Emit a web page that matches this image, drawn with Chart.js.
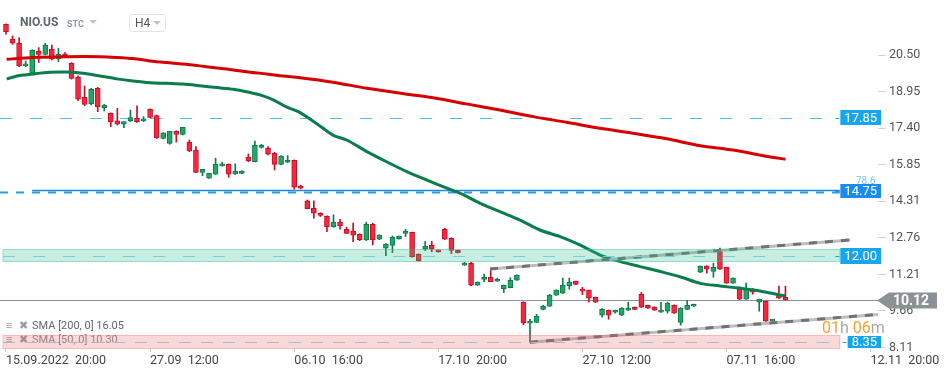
<!DOCTYPE html>
<html>
<head>
<meta charset="utf-8">
<script src="https://cdn.jsdelivr.net/npm/chart.js@4.4.0/dist/chart.umd.min.js"></script>
<style>
html, body { margin: 0; padding: 0; background: #fff; }
#chart { display: block; }
</style>
</head>
<body>
<canvas id="chart" width="949" height="373"></canvas>
<script>
// H4 candles, NIO.US, 15.09.2022 - 08.11.2022
const opens = [
    21.80, 21.17, 21.00, 20.04, 19.73, 20.67, 20.53, 20.74, 20.33, 20.54,
    20.15, 19.56, 18.71, 18.43, 19.09, 18.27, 18.03, 17.71, 17.57, 17.72,
    17.82, 17.71, 18.20, 17.93, 16.97, 16.76, 17.27, 17.14, 16.81, 16.47,
    15.53, 15.28, 15.45, 15.80, 15.87, 15.46, 15.49, 16.18, 15.98, 16.59,
    16.55, 16.34, 15.87, 15.96, 16.04, 14.95, 14.32, 14.01, 13.80, 13.67,
    13.23, 13.42, 13.12, 13.04, 12.91, 12.67, 13.33, 12.70, 12.32, 12.44,
    12.72, 12.95, 12.99, 12.06, 12.28, 12.44, 12.23, 13.12, 12.74, 12.23,
    11.60, 11.68, 10.75, 11.00, 11.09, 10.92, 10.61, 10.65, 10.96, 10.03,
    9.14, 9.18, 9.73, 9.86, 10.33, 10.41, 10.73, 10.92, 10.58, 10.54,
    10.24, 9.48, 9.69, 9.61, 9.48, 9.69, 9.82, 10.37, 9.90, 9.82,
    9.61, 9.65, 9.90, 9.18, 9.73, 9.86, 11.30, 11.56, 11.34, 12.19,
    11.51, 10.84, 10.67, 10.16, 10.54, 10.03, 10.07, 9.23, 10.33, 10.24
];
const highs = [
    21.82, 21.31, 21.23, 20.25, 20.72, 20.81, 21.00, 20.92, 20.79, 20.60,
    20.18, 19.62, 19.19, 19.09, 19.13, 18.41, 18.05, 18.24, 17.68, 18.17,
    18.35, 17.89, 18.22, 17.96, 17.21, 17.27, 17.29, 17.44, 16.90, 16.62,
    15.66, 15.49, 16.13, 15.96, 15.89, 15.89, 15.60, 16.31, 16.86, 16.72,
    16.62, 16.38, 16.24, 16.24, 16.06, 14.99, 14.36, 14.32, 13.82, 13.69,
    13.73, 13.54, 13.21, 13.38, 12.93, 13.42, 13.38, 12.89, 12.51, 12.84,
    12.83, 13.12, 13.00, 12.08, 12.61, 12.61, 12.24, 13.16, 12.76, 12.24,
    11.72, 11.72, 10.89, 11.22, 11.40, 11.05, 10.76, 11.07, 11.19, 10.05,
    9.31, 9.52, 9.90, 10.37, 10.56, 11.05, 11.05, 10.93, 10.66, 10.55,
    10.25, 9.76, 9.70, 9.70, 9.80, 10.03, 9.83, 10.45, 9.91, 9.84,
    10.03, 10.03, 9.92, 9.80, 10.11, 9.95, 11.57, 11.58, 11.68, 12.32,
    11.52, 11.06, 10.68, 10.84, 10.62, 10.16, 10.08, 9.30, 10.71, 10.71
];
const lows = [
    21.38, 20.95, 20.01, 20.01, 19.71, 20.18, 20.50, 20.29, 20.22, 20.46,
    19.48, 18.57, 18.35, 18.39, 18.10, 18.13, 17.47, 17.54, 17.42, 17.68,
    17.65, 17.68, 17.84, 16.97, 16.95, 16.72, 16.81, 17.12, 16.41, 15.52,
    15.39, 15.27, 15.44, 15.79, 15.32, 15.44, 15.47, 15.98, 15.97, 16.55,
    16.27, 15.63, 15.85, 15.94, 14.82, 14.83, 13.98, 13.59, 13.66, 13.02,
    13.21, 13.13, 12.93, 12.60, 12.64, 12.64, 12.46, 12.68, 12.00, 12.13,
    12.70, 12.81, 11.94, 11.77, 12.22, 12.17, 12.15, 12.69, 12.09, 12.12,
    11.59, 10.73, 10.74, 10.90, 10.90, 10.91, 10.44, 10.64, 10.95, 9.08,
    8.34, 9.17, 9.71, 9.85, 10.32, 10.40, 10.58, 10.78, 10.35, 10.03,
    10.02, 9.40, 9.31, 9.57, 9.46, 9.68, 9.72, 9.80, 9.77, 9.68,
    9.60, 9.57, 9.56, 9.06, 9.72, 9.85, 11.28, 11.26, 11.09, 11.42,
    10.83, 10.83, 10.14, 10.15, 10.37, 9.65, 9.22, 9.22, 10.19, 10.15
];
const closes = [
    21.49, 21.00, 20.04, 20.12, 20.70, 20.53, 20.91, 20.32, 20.53, 20.47,
    19.51, 18.63, 18.41, 19.05, 18.31, 18.37, 17.68, 17.57, 17.68, 17.85,
    17.68, 17.79, 17.86, 16.99, 17.21, 17.27, 17.14, 17.44, 16.44, 15.53,
    15.66, 15.49, 15.87, 15.89, 15.45, 15.59, 15.58, 16.03, 16.68, 16.68,
    16.30, 15.87, 16.22, 16.04, 14.90, 14.86, 13.99, 13.80, 13.71, 13.23,
    13.42, 13.27, 12.95, 12.87, 12.68, 13.33, 12.67, 12.87, 12.49, 12.78,
    12.83, 13.04, 11.96, 11.79, 12.40, 12.28, 12.17, 12.70, 12.23, 12.13,
    11.68, 10.75, 10.88, 11.09, 10.90, 11.00, 10.75, 10.96, 11.17, 9.17,
    9.23, 9.44, 9.86, 10.33, 10.54, 10.75, 10.88, 10.79, 10.50, 10.20,
    10.03, 9.73, 9.48, 9.69, 9.78, 9.78, 9.73, 9.82, 9.78, 9.69,
    9.69, 9.99, 9.57, 9.78, 9.90, 9.94, 11.56, 11.43, 11.51, 11.43,
    10.84, 11.05, 10.16, 10.62, 10.46, 10.16, 9.23, 9.27, 10.20, 10.12
];

// moving averages at candle positions
const sma200X = [0.1, 4.1, 9.3, 14.4, 16.9, 19.4, 22.0, 24.5, 27.0, 29.6, 32.2, 34.7, 37.3, 39.8, 42.3, 44.9,
    49.9, 55.1, 60.2, 65.2, 70.3, 75.4, 80.5, 85.6, 90.7, 95.7, 100.9, 106.0, 111.0, 116.2, 119.0];
const sma200Y = [20.32, 20.40, 20.43, 20.43, 20.40, 20.35, 20.25, 20.18, 20.12, 20.04, 19.95, 19.87, 19.77, 19.70, 19.61, 19.54,
    19.35, 19.09, 18.88, 18.69, 18.43, 18.17, 17.89, 17.65, 17.40, 17.19, 16.95, 16.66, 16.48, 16.20, 16.09];
const sma50X = [0.1, 2.1, 4.1, 6.7, 9.3, 11.8, 14.4, 16.9, 19.4, 22.0, 24.5, 27.0, 29.6, 32.2, 34.7, 37.3, 38.8, 40.8, 42.9, 44.9,
    47.6, 49.9, 52.0, 55.1, 58.1, 61.2, 64.2, 67.3, 69.3, 72.4, 75.4, 78.5, 81.5, 84.6, 87.6, 90.7, 93.8, 96.8, 99.9, 102.9,
    106.0, 109.0, 112.1, 115.1, 118.2, 119.0];
const sma50Y = [19.49, 19.63, 19.70, 19.77, 19.78, 19.73, 19.61, 19.49, 19.40, 19.33, 19.30, 19.27, 19.20, 19.12, 19.05, 18.91, 18.81, 18.60, 18.29, 18.06,
    17.56, 17.11, 16.90, 16.41, 15.98, 15.56, 15.21, 14.86, 14.65, 14.22, 13.87, 13.51, 13.09, 12.81, 12.46, 12.03, 11.75, 11.54, 11.33, 11.11,
    10.83, 10.72, 10.62, 10.51, 10.34, 10.30];

// triangle trend lines: [start index, end index], [start price, end price]
const upperTrendX = [73.9, 128.9];
const upperTrendY = [11.44, 12.67];
const lowerTrendX = [80.0, 133.4];
const lowerTrendY = [8.34, 9.52];

// levels and zones
const levelValues = [17.85, 14.75, 12.00, 8.35];
const zoneTops = [12.29, 8.65];
const zoneBottoms = [11.77, 8.10];
const lastPrice = 10.12;

const xTickIndex = [0, 22, 44, 66, 88, 110, 132];
const xTickLabels = ['15.09.2022  20:00', '27.09  12:00', '06.10  16:00', '17.10  20:00', '27.10  12:00', '07.11  16:00', '12.11  20:00'];
const yTickValues = [8.11, 9.66, 11.21, 12.76, 14.31, 15.85, 17.40, 18.95, 20.50];

const UP_FILL = '#21a768';
const UP_LINE = '#0f7a4b';
const DOWN_FILL = '#f4283e';
const DOWN_LINE = '#c40f27';
const FONT = 'Roboto, "Noto Sans", sans-serif';

const idx = closes.map((c, i) => i);
const isUp = idx.map(i => closes[i] >= opens[i]);

const LEVEL_END = 127.3; // index where level lines and zones stop

function hLine(ctx, x1, x2, y, color, width, dash) {
    ctx.save();
    ctx.strokeStyle = color;
    ctx.lineWidth = width;
    ctx.setLineDash(dash || []);
    ctx.beginPath();
    ctx.moveTo(x1, Math.round(y) + 0.5);
    ctx.lineTo(x2, Math.round(y) + 0.5);
    ctx.stroke();
    ctx.restore();
}

function priceBox(ctx, right, y, text, color, h) {
    ctx.save();
    ctx.font = '13px ' + FONT;
    const w = ctx.measureText(text).width + 8;
    ctx.fillStyle = color;
    ctx.fillRect(right - w, Math.round(y - h / 2), w, h);
    ctx.strokeStyle = color;
    ctx.beginPath();
    ctx.moveTo(right - w - 5, Math.round(y) + 0.5);
    ctx.lineTo(right - w - 1, Math.round(y) + 0.5);
    ctx.stroke();
    ctx.fillStyle = '#fff';
    ctx.textAlign = 'center';
    ctx.textBaseline = 'middle';
    ctx.fillText(text, right - w / 2, y + 1);
    ctx.restore();
}

const overlay = {
    id: 'overlay',
    beforeDatasetsDraw(chart) {
        const { ctx, chartArea: a, scales: { x, y } } = chart;
        const xe = x.getPixelForValue(LEVEL_END);
        ctx.save();
        ctx.beginPath();
        ctx.rect(a.left, a.top, a.right - a.left, a.bottom - a.top);
        ctx.clip();
        hLine(ctx, a.left, xe, y.getPixelForValue(levelValues[0]), '#4cbdf0', 1, [12, 18]);
        hLine(ctx, x.getPixelForValue(4), xe, y.getPixelForValue(levelValues[1]) - 1, '#1e88e5', 1.5);
        hLine(ctx, a.left, xe, y.getPixelForValue(levelValues[1]) + 1, '#2a9be8', 2, [8, 8]);
        hLine(ctx, a.left, a.right, y.getPixelForValue(lastPrice), '#8a9296', 1);
        ctx.restore();

        ctx.save();
        ctx.font = '10px ' + FONT;
        ctx.fillStyle = '#6fcaf5';
        ctx.textAlign = 'left';
        ctx.textBaseline = 'middle';
        ctx.fillText('78.6', 856, y.getPixelForValue(levelValues[1]) - 9);
        ctx.restore();
    },
    afterDatasetsDraw(chart) {
        const { ctx, chartArea: a, scales: { x, y } } = chart;
        const xe = x.getPixelForValue(LEVEL_END);

        // indicator legend (bottom left)
        ctx.save();
        ctx.font = '11px ' + FONT;
        ctx.textBaseline = 'middle';
        [['SMA [200, 0] 16.05', 326, '#666'], ['SMA [50, 0] 10.30', 340, '#8a8a8a']].forEach(([t, ly, c]) => {
            ctx.fillStyle = '#999';
            ctx.fillText('\u2261', 6, ly);
            ctx.fillText('\u2716', 19, ly);
            ctx.fillStyle = c;
            ctx.fillText(t, 32, ly);
        });
        ctx.restore();

        // zones
        const zoneFill = ['rgba(44, 190, 140, 0.26)', 'rgba(240, 90, 90, 0.23)'];
        const zoneEdge = ['rgba(44, 190, 140, 0.45)', 'rgba(240, 90, 90, 0.35)'];
        ctx.save();
        zoneTops.forEach((t, i) => {
            const y1 = Math.round(y.getPixelForValue(t)) + 0.5;
            const y2 = Math.round(y.getPixelForValue(zoneBottoms[i])) + 0.5;
            ctx.fillStyle = zoneFill[i];
            ctx.fillRect(a.left + 3, y1, xe - a.left - 3, y2 - y1);
            ctx.strokeStyle = zoneEdge[i];
            ctx.lineWidth = 1;
            ctx.strokeRect(a.left + 3, y1, xe - a.left - 3, y2 - y1);
        });
        ctx.restore();
        hLine(ctx, a.left + 3, xe, y.getPixelForValue(levelValues[2]), '#78cde0', 1, [12, 18]);
        hLine(ctx, a.left + 3, xe, y.getPixelForValue(levelValues[3]), '#a7b7d6', 1, [12, 10]);

        // level boxes
        const right = a.right + 3;
        priceBox(ctx, right, y.getPixelForValue(levelValues[0]), '17.85', '#16a6ee', 15);
        priceBox(ctx, right, y.getPixelForValue(levelValues[1]), '14.75', '#1a8cf0', 14);
        priceBox(ctx, right, y.getPixelForValue(levelValues[2]), '12.00', '#16a6ee', 16);
        priceBox(ctx, right, y.getPixelForValue(levelValues[3]), '8.35', '#16a6ee', 12);
    },
    afterDraw(chart) {
        const { ctx, chartArea: a, scales: { y } } = chart;
        // last price tag
        const py = Math.round(y.getPixelForValue(lastPrice)) + 0.5;
        ctx.save();
        ctx.fillStyle = '#8a9296';
        ctx.beginPath();
        ctx.moveTo(a.right - 1, py);
        ctx.lineTo(a.right + 11, py - 8);
        ctx.lineTo(937, py - 8);
        ctx.lineTo(937, py + 8);
        ctx.lineTo(a.right + 11, py + 8);
        ctx.closePath();
        ctx.fill();
        ctx.fillStyle = '#fff';
        ctx.font = 'bold 14px ' + FONT;
        ctx.textAlign = 'center';
        ctx.textBaseline = 'middle';
        ctx.fillText(lastPrice.toFixed(2), 911, py + 1);

        // candle countdown
        ctx.font = '16px ' + FONT;
        ctx.textAlign = 'left';
        ctx.textBaseline = 'alphabetic';
        let cx = 822;
        [['01', '#f7a12a'], ['h', '#a8a8a8'], [' 06', '#f7a12a'], ['m', '#a8a8a8']].forEach(([t, c]) => {
            ctx.fillStyle = c;
            ctx.fillText(t, cx, 333);
            cx += ctx.measureText(t).width;
        });

        // header
        ctx.font = 'bold 12px ' + FONT;
        ctx.fillStyle = '#5b656d';
        ctx.textBaseline = 'middle';
        ctx.fillText('NIO.US', 20, 23);
        ctx.font = 'bold 9px ' + FONT;
        ctx.fillStyle = '#8a9bab';
        ctx.fillText('STC', 67, 24.5);
        ctx.fillStyle = '#c4c4c4';
        ctx.beginPath();
        ctx.moveTo(89, 20); ctx.lineTo(97, 20); ctx.lineTo(93, 24); ctx.closePath();
        ctx.fill();
        ctx.strokeStyle = '#e2e2e2';
        ctx.lineWidth = 1;
        ctx.beginPath();
        ctx.roundRect(129.5, 14.5, 36, 17, 3);
        ctx.stroke();
        ctx.font = '12px ' + FONT;
        ctx.fillStyle = '#555';
        ctx.fillText('H4', 135, 23.5);
        ctx.fillStyle = '#c4c4c4';
        ctx.beginPath();
        ctx.moveTo(153, 21); ctx.lineTo(161, 21); ctx.lineTo(157, 25); ctx.closePath();
        ctx.fill();
        ctx.restore();
    }
};

const ctx = document.getElementById('chart').getContext('2d');

new Chart(ctx, {
    type: 'bar',
    data: {
        datasets: [
            {
                label: 'SMA 200',
                type: 'line',
                data: sma200X.map((v, i) => ({ x: v, y: sma200Y[i] })),
                borderColor: '#d60000',
                borderWidth: 3,
                pointRadius: 0,
                tension: 0.3,
                order: 2,
            },
            {
                label: 'SMA 50',
                type: 'line',
                data: sma50X.map((v, i) => ({ x: v, y: sma50Y[i] })),
                borderColor: '#0b7d4c',
                borderWidth: 3,
                pointRadius: 0,
                tension: 0.3,
                order: 2,
            },
            {
                label: 'upper',
                type: 'line',
                data: upperTrendX.map((v, i) => ({ x: v, y: upperTrendY[i] })),
                borderColor: '#bdbdbd',
                borderWidth: 3,
                pointRadius: 0,
                order: 1,
            },
            {
                label: 'upper dash',
                type: 'line',
                data: upperTrendX.map((v, i) => ({ x: v, y: upperTrendY[i] })),
                borderColor: '#727272',
                borderWidth: 3,
                borderDash: [8, 8],
                pointRadius: 0,
                order: 0,
            },
            {
                label: 'lower',
                type: 'line',
                data: lowerTrendX.map((v, i) => ({ x: v, y: lowerTrendY[i] })),
                borderColor: '#bdbdbd',
                borderWidth: 3,
                pointRadius: 0,
                order: 1,
            },
            {
                label: 'lower dash',
                type: 'line',
                data: lowerTrendX.map((v, i) => ({ x: v, y: lowerTrendY[i] })),
                borderColor: '#727272',
                borderWidth: 3,
                borderDash: [8, 8],
                pointRadius: 0,
                order: 0,
            },
            {
                label: 'wicks',
                data: idx.map(i => ({ x: i, y: [lows[i], highs[i]] })),
                backgroundColor: idx.map(i => (isUp[i] ? UP_LINE : DOWN_LINE)),
                barThickness: 1,
                grouped: false,
                order: 4,
            },
            {
                label: 'bodies',
                data: idx.map(i => ({ x: i, y: [opens[i], closes[i]] })),
                backgroundColor: idx.map(i => (isUp[i] ? UP_FILL : DOWN_FILL)),
                borderColor: idx.map(i => (isUp[i] ? UP_LINE : DOWN_LINE)),
                borderWidth: 1,
                borderSkipped: false,
                barThickness: 5,
                minBarLength: 2,
                grouped: false,
                order: 3,
            },
        ],
    },
    options: {
        responsive: false,
        animation: false,
        events: [],
        layout: { padding: 0 },
        plugins: {
            legend: { display: false },
            tooltip: { enabled: false },
        },
        scales: {
            x: {
                type: 'linear',
                min: -0.916,
                max: 133.13,
                offset: false,
                afterBuildTicks: s => { s.ticks = xTickIndex.map(v => ({ value: v })); },
                afterFit: s => { s.height = 24; s.paddingLeft = 0; s.paddingRight = 0; },
                grid: { drawOnChartArea: false, offset: false, tickLength: 3, color: '#c8c8c8' },
                border: { display: false },
                ticks: {
                    autoSkip: false,
                    maxRotation: 0,
                    minRotation: 0,
                    align: 'start',
                    padding: 1,
                    color: '#444',
                    font: { family: FONT, size: 12.5 },
                    callback: (v, i) => xTickLabels[i],
                },
            },
            y: {
                type: 'linear',
                position: 'right',
                min: 8.05,
                max: 22.83,
                afterBuildTicks: s => { s.ticks = yTickValues.map(v => ({ value: v })); },
                afterFit: s => { s.width = 71; s.paddingTop = 0; s.paddingBottom = 0; },
                grid: { drawOnChartArea: false, tickLength: 8, color: '#d0d0d0' },
                border: { display: false },
                ticks: {
                    padding: 3,
                    color: '#555',
                    font: { family: FONT, size: 12.5 },
                    callback: v => v.toFixed(2),
                },
            },
        },
    },
    plugins: [overlay],
});
</script>
</body>
</html>
